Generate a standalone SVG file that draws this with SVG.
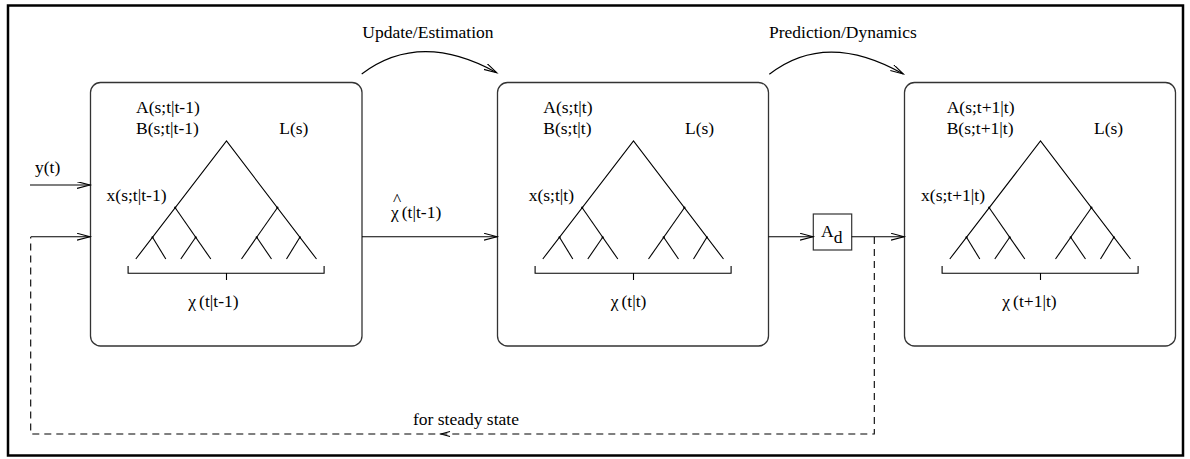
<svg xmlns="http://www.w3.org/2000/svg" xmlns:xlink="http://www.w3.org/1999/xlink" width="1190" height="459" viewBox="0 0 1190 459" font-family="'Liberation Serif', 'DejaVu Serif', serif">
  <style>
    text { font-family: "Liberation Serif", "DejaVu Serif", serif; font-size: 17.5px; fill: #000; }
    .box { fill: #fff; stroke: #333; stroke-width: 1.3; }
    .ln { fill: none; stroke: #000; stroke-width: 1.1; }
    .dash { fill: none; stroke: #000; stroke-width: 1.1; stroke-dasharray: 7 5; }
    .frame { fill: none; stroke: #000; stroke-width: 2.5; }
  </style>
  <defs>
    <marker id="open" markerUnits="userSpaceOnUse" markerWidth="16" markerHeight="10" refX="13" refY="3.4" orient="auto">
      <path d="M0,0 L13,3.4 L0,6.8" fill="none" stroke="#000" stroke-width="1.1"/>
    </marker>
    <!-- binary tree with bracket, drawn relative to its box's left edge -->
    <g id="tree" class="ln">
      <path d="M45.3,259 L136,141 L226,259"/>
      <path d="M84.7,207.7 L120.3,259"/>
      <path d="M62,237.3 L75.3,259"/>
      <path d="M105.2,237.3 L90.3,259"/>
      <path d="M186.9,207.7 L151,259"/>
      <path d="M166.2,237.3 L181,259"/>
      <path d="M209.4,237.3 L196,259"/>
      <path d="M37.6,266 V273.3 H233.6 V266 M136,273.3 V280"/>
      <g fill="#000" stroke="none">
        <circle cx="84.7" cy="207.7" r="1.1"/>
        <circle cx="62" cy="237.3" r="1.1"/>
        <circle cx="105.2" cy="237.3" r="1.1"/>
        <circle cx="186.9" cy="207.7" r="1.1"/>
        <circle cx="166.2" cy="237.3" r="1.1"/>
        <circle cx="209.4" cy="237.3" r="1.1"/>
      </g>
    </g>
  </defs>

  <rect class="frame" x="8" y="5.5" width="1175" height="450"/>

  <g id="prior">
    <rect class="box" x="90.5" y="82.5" width="271.5" height="263.5" rx="10"/>
    <use xlink:href="#tree" transform="translate(90.5,0)"/>
    <text x="136" y="113.3">A(s;t|t-1)</text>
    <text x="136" y="134">B(s;t|t-1)</text>
    <text x="279.3" y="134">L(s)</text>
    <text x="166.5" y="200.7" text-anchor="end">x(s;t|t-1)</text>
    <text x="188.3" y="306.7">χ<tspan dx="3">(t|t-1)</tspan></text>
  </g>

  <g id="updated">
    <rect class="box" x="497.5" y="82.5" width="271" height="263.5" rx="10"/>
    <use xlink:href="#tree" transform="translate(497.5,0)"/>
    <text x="543.3" y="113.3">A(s;t|t)</text>
    <text x="543.3" y="134">B(s;t|t)</text>
    <text x="685" y="134">L(s)</text>
    <text x="574" y="200.7" text-anchor="end">x(s;t|t)</text>
    <text x="610.7" y="306.7">χ<tspan dx="3">(t|t)</tspan></text>
  </g>

  <g id="predicted">
    <rect class="box" x="904.5" y="82.5" width="271" height="263.5" rx="10"/>
    <use xlink:href="#tree" transform="translate(904.5,0)"/>
    <text x="946.7" y="113.3">A(s;t+1|t)</text>
    <text x="946.7" y="134">B(s;t+1|t)</text>
    <text x="1094" y="134">L(s)</text>
    <text x="985" y="200.7" text-anchor="end">x(s;t+1|t)</text>
    <text x="1002.3" y="306.7">χ<tspan dx="3">(t+1|t)</tspan></text>
  </g>

  <g id="dynamics">
    <rect x="813.3" y="214" width="38.4" height="36" fill="#fff" stroke="#333" stroke-width="1.2"/>
    <text x="821" y="236.7" font-size="18">A<tspan dy="6.5">d</tspan></text>
  </g>

  <g id="connectors">
    <path class="ln" d="M361.7,74 Q420,30 496.7,72.7" marker-end="url(#open)"/>
    <path class="ln" d="M769.3,74.3 Q826,30 903.3,74" marker-end="url(#open)"/>
    <path class="ln" d="M30,185 H90" marker-end="url(#open)"/>
    <path class="ln" d="M30.7,236.7 H90" marker-end="url(#open)"/>
    <path class="ln" d="M362,236.7 H497" marker-end="url(#open)"/>
    <path class="ln" d="M768.5,236.7 H813" marker-end="url(#open)"/>
    <path class="ln" d="M851.7,236.7 H904" marker-end="url(#open)"/>
    <path class="dash" d="M874.3,237 V434 H30.7 V237"/>
    <path class="ln" d="M450,431.5 L441,434 L450,436.5"/>
  </g>

  <g id="labels">
    <text x="362.3" y="37.7">Update/Estimation</text>
    <text x="769" y="37.7">Prediction/Dynamics</text>
    <text x="35" y="173.3">y(t)</text>
    <text x="391" y="218.3">χ<tspan dx="3">(t|t-1)</tspan></text>
    <text x="393" y="205" font-size="13">^</text>
    <text x="413" y="425">for steady state</text>
  </g>
</svg>
